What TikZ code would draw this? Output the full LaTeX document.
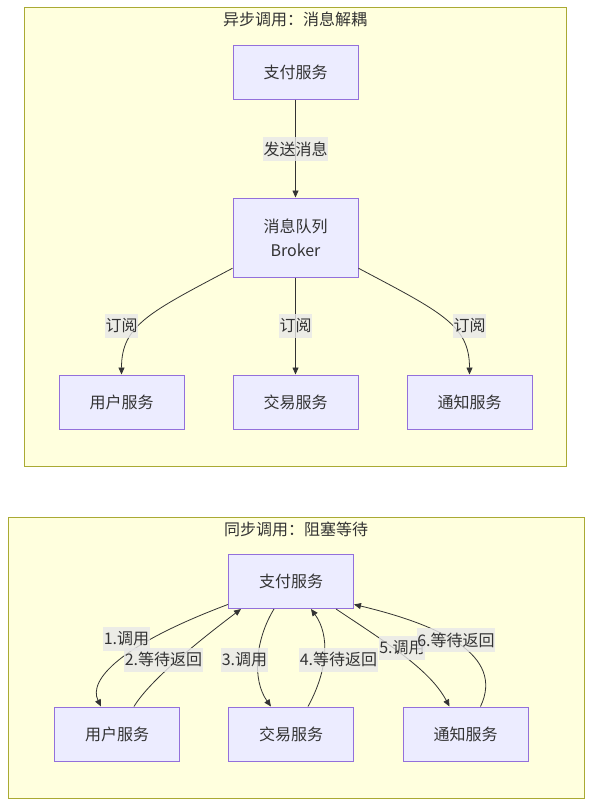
\documentclass[tikz,border=0pt]{standalone}
\usepackage{fontspec}
\setmainfont{Noto Sans CJK SC}
\usetikzlibrary{arrows.meta,calc}
\definecolor{clfill}{HTML}{FFFFDE}
\definecolor{cldraw}{HTML}{AAAA33}
\definecolor{svfill}{HTML}{ECECFF}
\definecolor{svdraw}{HTML}{9370DB}
\definecolor{lbfill}{HTML}{E8E8E8}
\definecolor{ink}{HTML}{333333}

\begin{document}
\begin{tikzpicture}[x=1pt,y=-1pt,line width=0.8pt,>={Triangle[length=7pt,width=6pt]},
  svc/.style={draw=svdraw,fill=svfill,line width=1pt,minimum width=125pt,
    minimum height=54pt,inner sep=0pt,text=ink,align=center,
    font=\fontsize{16}{24}\selectfont},
  lab/.style={fill=lbfill,fill opacity=0.8,text opacity=1,text=ink,
    inner xsep=0.5pt,inner ysep=0pt,minimum height=24pt,
    font=\fontsize{16}{20}\selectfont},
  cluster/.style={draw=cldraw,fill=clfill,line width=1pt},
  ttl/.style={text=ink,font=\fontsize{16}{20}\selectfont},
  conn/.style={draw=ink,line width=0.8pt,->}]
\useasboundingbox (0,0) rectangle (591,807);
\fill[white] (0,0) rectangle (591,807);
% 异步调用
\draw[cluster] (24,7.5) rectangle (566,466);
\node[ttl] (title1) at (295,19) {异步调用：消息解耦};
\node[svc] (pay1) at (295.5,72) {支付服务};
\node[svc,minimum height=79pt] (mq) at (295.5,237.5) {消息队列\\Broker};
\node[svc] (user1) at (121.5,402) {用户服务};
\node[svc] (trade1) at (295.5,402) {交易服务};
\node[svc] (note1) at (469.5,402) {通知服务};
\draw[conn] (pay1) -- (mq);
\draw[conn] (mq.206) .. controls (150,312) and (121.5,325) .. (user1.north);
\draw[conn] (mq) -- (trade1);
\draw[conn] (mq.334) .. controls (441,312) and (469.5,325) .. (note1.north);
\node[lab] (send) at (295.5,149) {发送消息};
\node[lab] (sub1) at (121.5,326) {订阅};
\node[lab] (sub2) at (295.5,326) {订阅};
\node[lab] (sub3) at (469.5,326) {订阅};
% 同步调用
\draw[cluster] (8,517) rectangle (584,798);
\node[ttl] (title2) at (296,529) {同步调用：阻塞等待};
\node[svc] (pay2) at (291,581.5) {支付服务};
\node[svc] (user2) at (117,734) {用户服务};
\node[svc] (trade2) at (291,734) {交易服务};
\node[svc] (note2) at (465.5,734) {通知服务};
\draw[conn] (pay2.200) .. controls (120,645) and (88,680) .. ($(user2.north)+(-16,0)$);
\draw[conn] ($(user2.north)+(17,0)$) .. controls (150,680) and (200,640) .. ($(pay2.south)+(-50,0)$);
\draw[conn] ($(pay2.south)+(-17,0)$) .. controls (255,640) and (252,680) .. ($(trade2.north)+(-20,0)$);
\draw[conn] ($(trade2.north)+(17,0)$) .. controls (328,670) and (330,635) .. ($(pay2.south)+(20,0)$);
\draw[conn] ($(pay2.south)+(45,0)$) .. controls (390,645) and (430,670) .. ($(note2.north)+(-16,0)$);
\draw[conn] ($(note2.north)+(15,0)$) .. controls (505,655) and (440,625) .. (pay2.340);
\node[lab] (call1) at (126.5,639) {1.调用};
\node[lab] (wait2) at (163.5,659.5) {2.等待返回};
\node[lab] (call3) at (244.5,659.5) {3.调用};
\node[lab] (wait4) at (338.5,659.5) {4.等待返回};
\node[lab] (call5) at (402,648) {5.调用};
\node[lab] (wait6) at (456,640) {6.等待返回};
\end{tikzpicture}
\end{document}
